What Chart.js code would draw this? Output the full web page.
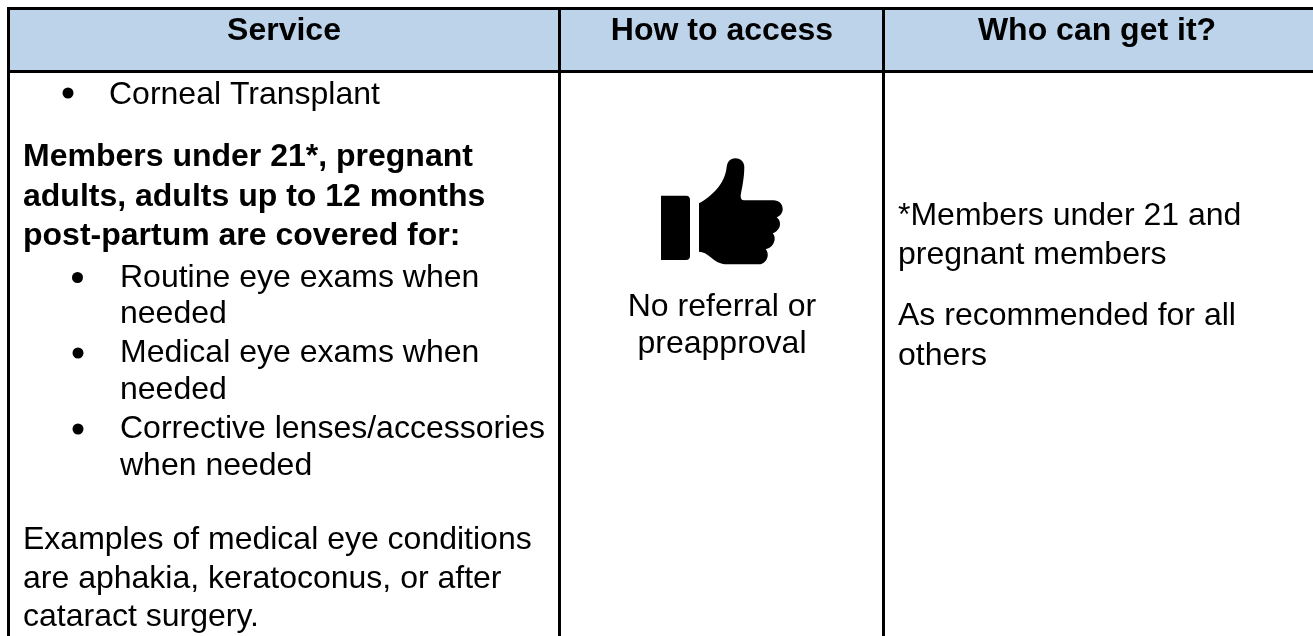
<!DOCTYPE html>
<html>
<head>
<meta charset="utf-8">
<title>Service table</title>
<script src="https://cdn.jsdelivr.net/npm/chart.js@4/dist/chart.umd.min.js"></script>
<style>
    html, body { margin: 0; padding: 0; background: #fff; }
    #wrap { position: relative; width: 1313px; height: 636px; }
</style>
</head>
<body>
<div id="wrap"><canvas id="chart" width="1313" height="636"></canvas></div>
<script>
// table content
const headers = ['Service', 'How to access', 'Who can get it?'];
const serviceLines = [
    'Corneal Transplant',
    'Members under 21*, pregnant',
    'adults, adults up to 12 months',
    'post-partum are covered for:',
    'Routine eye exams when',
    'needed',
    'Medical eye exams when',
    'needed',
    'Corrective lenses/accessories',
    'when needed',
    'Examples of medical eye conditions',
    'are aphakia, keratoconus, or after',
    'cataract surgery.'
];
const accessLines = ['No referral or', 'preapproval'];
const whoLines = ['*Members under 21 and', 'pregnant members', 'As recommended for all', 'others'];

// table rules, in axis units (the axes run 1:1 with the picture)
const columnEdges = [8.5, 559.5, 883.5];
const rowEdges = [8.5, 71.5];
const tableRight = 1313;
const tableBottom = 636;

// text placement
const headerCenters = [284, 722, 1097];
const headerBaseline = 40;
const serviceLefts = [109, 23, 23, 23, 120, 120, 120, 120, 120, 120, 23, 23, 23];
const serviceBaselines = [104, 166, 206, 245, 287, 323, 362, 399, 438, 475, 549, 588, 626];
const accessCenter = 722;
const accessBaselines = [316, 353];
const whoLeft = 898;
const whoBaselines = [225, 264, 325, 365];
const bulletRows = [0, 4, 6, 8];
const bulletCenters = [[68, 93], [77.5, 277.5], [78, 353], [78, 429]];

const thumbPath = 'M699 203.3C712 196 725 184 726.7 166.7C727.5 161 731 158.3 735.3 158.3C740 158.3 744.3 161.5 744.3 167C744.3 178 742 188 740.7 195C740.4 198.5 741.5 200.3 744 200.3L773.5 200.3C779 200.3 782.7 204 782.7 209C782.7 213 780 216 776.7 217.3C779 219 780 221.5 780 224C780 228.5 776.5 232 772.7 233.3C774.5 235 775 238 774.5 240.5C773.5 245.5 769.5 248.5 765.7 249C767.2 251 768 253.5 767.7 256C767 261 763 264.3 759 264.3L727 264.3C720 264.3 715 261 711 257.5C707 254 703 251.7 699 251.7Z';

const headerFill = '#bdd3ea';
const ink = '#000000';
const rule = '#000000';
const fontFamily = '"Liberation Sans", Arial, sans-serif';

function ruleLine(p) {
    return {
        data: p,
        showLine: true,
        borderColor: rule,
        borderWidth: 3,
        pointRadius: 0,
        order: 1
    };
}

const tableText = {
    id: 'tableText',
    afterDatasetsDraw(chart) {
        const ctx = chart.ctx;
        const x = chart.scales.x;
        const y = chart.scales.y;
        ctx.save();
        ctx.fillStyle = ink;
        ctx.textBaseline = 'alphabetic';

        // header row
        ctx.font = 'bold 32px ' + fontFamily;
        ctx.textAlign = 'center';
        headers.forEach(function (h, i) {
            ctx.fillText(h, x.getPixelForValue(headerCenters[i]), y.getPixelForValue(headerBaseline));
        });

        // service column
        ctx.textAlign = 'left';
        serviceLines.forEach(function (line, i) {
            const isBold = i >= 1 && i <= 3;
            ctx.font = (isBold ? 'bold ' : '') + '32px ' + fontFamily;
            ctx.fillText(line, x.getPixelForValue(serviceLefts[i]), y.getPixelForValue(serviceBaselines[i]));
        });

        // bullets
        bulletRows.forEach(function (row, i) {
            ctx.beginPath();
            ctx.arc(x.getPixelForValue(bulletCenters[i][0]), y.getPixelForValue(bulletCenters[i][1]), 5.5, 0, Math.PI * 2);
            ctx.fill();
        });

        // access column
        ctx.font = '32px ' + fontFamily;
        ctx.textAlign = 'center';
        accessLines.forEach(function (line, i) {
            ctx.fillText(line, x.getPixelForValue(accessCenter), y.getPixelForValue(accessBaselines[i]));
        });

        // who column
        ctx.textAlign = 'left';
        whoLines.forEach(function (line, i) {
            ctx.fillText(line, x.getPixelForValue(whoLeft), y.getPixelForValue(whoBaselines[i]));
        });

        // thumbs up icon
        ctx.fill(new Path2D(thumbPath));
        ctx.beginPath();
        ctx.roundRect(661, 195.7, 29, 64.3, [0, 4, 4, 0]);
        ctx.fill();
        ctx.restore();
    }
};

new Chart(document.getElementById('chart'), {
    type: 'scatter',
    data: {
        datasets: [
            // header band, a thick line between the two row rules; higher order draws first
            {
                data: [
                    { x: columnEdges[0], y: (rowEdges[0] + rowEdges[1]) / 2 },
                    { x: tableRight, y: (rowEdges[0] + rowEdges[1]) / 2 }
                ],
                showLine: true,
                borderColor: headerFill,
                borderWidth: rowEdges[1] - rowEdges[0],
                pointRadius: 0,
                order: 2
            },
            ruleLine([{ x: columnEdges[0] - 1.5, y: rowEdges[0] }, { x: tableRight, y: rowEdges[0] }]),
            ruleLine([{ x: columnEdges[0] - 1.5, y: rowEdges[1] }, { x: tableRight, y: rowEdges[1] }]),
            ruleLine([{ x: columnEdges[0], y: rowEdges[0] }, { x: columnEdges[0], y: tableBottom }]),
            ruleLine([{ x: columnEdges[1], y: rowEdges[0] }, { x: columnEdges[1], y: tableBottom }]),
            ruleLine([{ x: columnEdges[2], y: rowEdges[0] }, { x: columnEdges[2], y: tableBottom }])
        ]
    },
    options: {
        responsive: false,
        animation: false,
        layout: { padding: 0 },
        plugins: { legend: { display: false }, tooltip: { enabled: false } },
        scales: {
            x: { type: 'linear', min: 0, max: 1313, display: false },
            y: { type: 'linear', min: 0, max: 636, reverse: true, display: false }
        }
    },
    plugins: [tableText]
});
</script>
</body>
</html>
